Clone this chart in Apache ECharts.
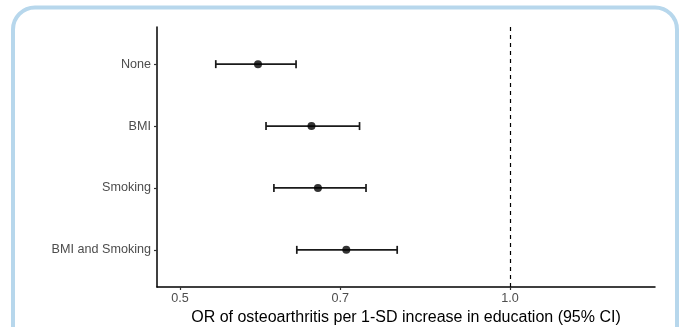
<!DOCTYPE html>
<html>
<head>
<meta charset="utf-8">
<script src="https://cdn.jsdelivr.net/npm/echarts@6/dist/echarts.min.js"></script>
<style>
html,body{margin:0;padding:0;background:#fff;}
#chart{width:681px;height:327px;}
</style>
</head>
<body>
<div id="chart"></div>
<script>
const categories = ['None', 'BMI', 'Smoking', 'BMI and Smoking'];
const orValues = [0.589, 0.659, 0.668, 0.709];
const lowerCI = [0.539, 0.599, 0.609, 0.639];
const upperCI = [0.638, 0.729, 0.739, 0.789];
const xTicks = [0.5, 0.7, 1.0];
const xTickLabels = ['0.5', '0.7', '1.0'];
const refValue = 1.0;

const chart = echarts.init(document.getElementById('chart'));
const font = 'Liberation Sans, Arial, sans-serif';

const barData = categories.map((c, i) => [lowerCI[i], upperCI[i], i + 1]);
const pointData = categories.map((c, i) => [orValues[i], i + 1]);

chart.setOption({
  animation: false,
  backgroundColor: '#fff',
  graphic: [{
    type: 'rect',
    shape: {x: 13, y: 7.5, width: 664, height: 360, r: 22},
    style: {fill: 'none', stroke: '#b7d7ec', lineWidth: 4},
    z: -10
  }],
  grid: {left: 157, top: 27, right: 26, bottom: 40, outerBoundsMode: 'none', containLabel: false},
  xAxis: {
    type: 'log',
    logBase: 10,
    min: 0.4764,
    max: 1.356,
    splitLine: {show: false},
    axisLine: {show: true, onZero: false, lineStyle: {color: '#000', width: 1.5}},
    axisTick: {show: true, length: 3, customValues: xTicks, lineStyle: {color: '#333', width: 1.2}},
    axisLabel: {
      customValues: xTicks,
      color: '#4d4d4d', fontSize: 12.6, fontFamily: font, margin: 5,
      formatter: v => { const k = xTicks.findIndex(t => Math.abs(t - v) < 1e-6); return k >= 0 ? xTickLabels[k] : ''; }
    },
    name: 'OR of osteoarthritis per 1-SD increase in education (95% CI)',
    nameLocation: 'middle',
    nameGap: 23,
    nameTextStyle: {color: '#000', fontSize: 16, fontFamily: font}
  },
  yAxis: {
    type: 'value',
    min: 0.4,
    max: 4.6,
    inverse: true,
    splitLine: {show: false},
    axisLine: {show: true, onZero: false, lineStyle: {color: '#000', width: 1.5}},
    axisTick: {show: true, length: 3, customValues: [1, 2, 3, 4], lineStyle: {color: '#333', width: 1.2}},
    axisLabel: {
      customValues: [1, 2, 3, 4],
      color: '#4d4d4d', fontSize: 12.6, fontFamily: font, margin: 6,
      formatter: v => categories[Math.round(v) - 1] || ''
    }
  },
  series: [
    {
      type: 'custom',
      data: barData,
      renderItem: (params, api) => {
        const lo = api.coord([api.value(0), api.value(2)]);
        const hi = api.coord([api.value(1), api.value(2)]);
        const h = 4;
        const st = {stroke: '#1a1a1a', lineWidth: 1.7};
        return {
          type: 'group',
          children: [
            {type: 'line', shape: {x1: lo[0], y1: lo[1], x2: hi[0], y2: hi[1]}, style: st},
            {type: 'line', shape: {x1: lo[0], y1: lo[1] - h, x2: lo[0], y2: lo[1] + h}, style: st},
            {type: 'line', shape: {x1: hi[0], y1: hi[1] - h, x2: hi[0], y2: hi[1] + h}, style: st}
          ]
        };
      },
      encode: {x: [0, 1], y: 2},
      z: 2
    },
    {
      type: 'scatter',
      data: pointData,
      symbol: 'circle',
      symbolSize: 8,
      itemStyle: {color: '#000'},
      z: 3,
      markLine: {
        silent: true,
        symbol: 'none',
        label: {show: false},
        lineStyle: {type: [4, 4], color: '#000', width: 1.2},
        data: [{xAxis: refValue}]
      }
    }
  ]
});
</script>
</body>
</html>
